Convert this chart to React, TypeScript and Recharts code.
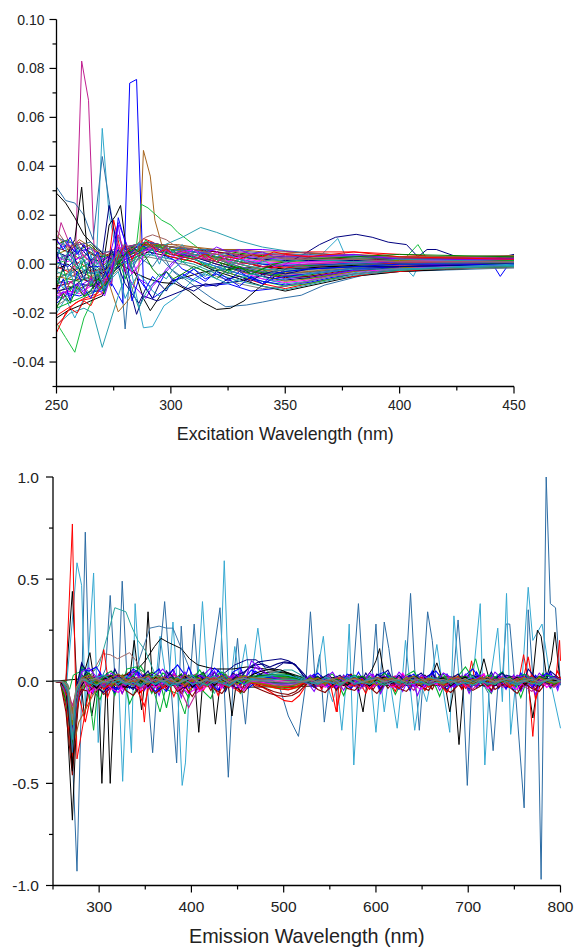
import React from "react";
import { Label, Line, LineChart, XAxis, YAxis } from "recharts";

// Origin style colour cycle
const palette = [
  "#000000", "#ff0000", "#00b030", "#0000ff", "#20a0c0", "#ff00ff", "#808000", "#000080",
  "#8000ff", "#800000", "#008000", "#c02090", "#3070a0", "#a06020", "#808080", "#20a0a0",
];

const exTicks = [250, 275, 300, 325, 350, 375, 400, 425, 450];
const exMajor = [250, 300, 350, 400, 450];
const exYTicks = [-0.05, -0.04, -0.03, -0.02, -0.01, 0, 0.01, 0.02, 0.03, 0.04, 0.05, 0.06, 0.07, 0.08, 0.09, 0.1];
const exYMajor = [-0.04, -0.02, 0, 0.02, 0.04, 0.06, 0.08, 0.1];
const emTicks = [250, 300, 350, 400, 450, 500, 550, 600, 650, 700, 750, 800];
const emMajor = [300, 400, 500, 600, 700, 800];
const emYTicks = [-1, -0.75, -0.5, -0.25, 0, 0.25, 0.5, 0.75, 1];
const emYMajor = [-1, -0.5, 0, 0.5, 1];

// Excitation band, values in 1e-3 units
const exGrid = [250, 255, 260, 265, 270, 275, 280, 285, 290, 295, 300, 310, 320, 330, 340, 350, 360, 370, 380, 390, 400, 420, 450];
const exBand = [
  [-22, -19, -17, -15, -13, -3, 1, 3, 5, 4, 3, 1, -3, -6, -9, -11, -9, -7, -5, -4, -3, -2, -1],
  [-21, -18, -15, -14, -12, -2, 2, 4, 6, 5, 3, 1, -2, -5, -8, -10, -8, -6, -5, -3.5, -3, -1.5, -1],
  [-18, -16, -14, -12, -10, -1, 3, 5, 6, 5, 4, 2, -2, -5, -7, -9, -8, -6, -4, -3, -2.5, -1.5, -1],
  [-16, -12, -13, -11, -11, -3, 2, 4, 7, 6, 4, 2, -1, -4, -7, -8.5, -7.5, -5.5, -4, -3, -2, -1, -0.5],
  [-14, -13, -10, -12, -9, 0, 3, 5, 6, 6, 5, 2, -1, -4, -6, -8, -7, -5, -3.5, -2.5, -2, -1, -0.5],
  [-13, -11, -12, -9, -8, 1, 4, 6, 7, 6, 5, 3, 0, -3, -6, -7.5, -6.5, -5, -3, -2.5, -1.5, -1, 0],
  [-12, -9, -10, -8, -10, -1, 4, 5, 7, 7, 5, 3, 0, -3, -5, -7, -6, -4.5, -3, -2, -1.5, -0.5, 0],
  [-11, -10, -8, -9, -7, 0, 3, 6, 8, 6, 5, 3, 0, -2.5, -5, -6.5, -5.5, -4, -2.5, -2, -1, -0.5, 0],
  [-10, -7, -9, -6, -8, 1, 3, 5, 6, 7, 5, 3, 1, -2, -4, -6, -5, -4, -2.5, -1.5, -1, -0.5, 0.5],
  [-9, -8, -6, -7, -6, 1, 4, 6, 7, 6, 5, 4, 1, -2, -4, -5.5, -5, -3.5, -2, -1.5, -1, 0, 0.5],
  [-8, -6, -7, -5, -7, 0, 3, 5, 7, 6, 4, 3, 1, -1.5, -3.5, -5, -4.5, -3, -2, -1, -0.5, 0, 0.5],
  [-7, -8, -5, -6, -5, 2, 4, 6, 8, 7, 5, 4, 2, -1, -3, -4.5, -4, -3, -1.5, -1, -0.5, 0, 1],
  [-6, -4, -6, -3, -6, 1, 5, 6, 7, 6, 5, 4, 2, -1, -3, -4, -3.5, -2.5, -1.5, -1, 0, 0.5, 1],
  [-5, -6, -3, -5, -4, 2, 4, 7, 8, 7, 6, 4, 2, 0, -2.5, -3.5, -3, -2, -1, -0.5, 0, 0.5, 1],
  [-4, -2, -5, -2, -5, 1, 3, 6, 7, 6, 6, 5, 2, 0, -2, -3, -2.5, -2, -1, -0.5, 0, 0.5, 1],
  [-3, -5, -1, -4, -3, 3, 5, 6, 8, 7, 5, 4, 3, 0, -2, -2.5, -2, -1.5, -0.5, 0, 0.5, 1, 1.5],
  [-2, 0, -4, -1, -4, 2, 4, 7, 9, 7, 6, 5, 3, 1, -1, -2, -1.5, -1, -0.5, 0, 0.5, 1, 1.5],
  [-1, -3, 1, -3, -2, 3, 6, 7, 8, 7, 6, 5, 3, 1, -1, -1.5, -1, -0.5, 0, 0, 0.5, 1, 1.5],
  [0, 2, -2, 1, -3, 2, 5, 6, 7, 8, 6, 5, 3, 1, 0, -1, -0.5, 0, 0, 0.5, 1, 1, 1.5],
  [1, -1, 3, -1, -1, 4, 5, 7, 9, 8, 7, 5, 4, 2, 0, -0.5, 0, 0, 0.5, 0.5, 1, 1.5, 2],
  [2, 4, 0, 3, -2, 3, 6, 8, 8, 7, 6, 5, 4, 2, 0.5, 0, 0, 0.5, 0.5, 1, 1, 1.5, 2],
  [3, 1, 5, 1, 0, 4, 6, 7, 9, 8, 7, 6, 4, 2.5, 1, 0.5, 0.5, 0.5, 1, 1, 1.5, 1.5, 2],
  [4, 6, 2, 5, -1, 3, 5, 8, 8, 7, 6, 6, 4, 3, 1.5, 1, 1, 1, 1, 1.5, 1.5, 2, 2],
  [5, 3, 7, 2, 1, 5, 6, 7, 8, 8, 7, 6, 5, 3, 2, 1.5, 1.5, 1.5, 1.5, 1.5, 2, 2, 2.5],
  [6, 8, 4, 7, 2, 4, 7, 8, 9, 8, 7, 6, 5, 3.5, 2.5, 2, 2, 2, 2, 2, 2, 2, 2.5],
  [7, 5, 9, 4, 3, 5, 6, 8, 9, 8, 7, 6, 5, 4, 3, 2.5, 2.5, 2.5, 2, 2, 2, 2.5, 3],
  [8, 10, 6, 8, 3, 4, 7, 8, 8, 8, 7, 6, 6, 4.5, 3.5, 3, 3, 3, 2.5, 2.5, 2.5, 2.5, 3],
  [9, 7, 9, 6, 4, 6, 7, 8, 9, 8, 7, 6, 6, 5, 4, 3.5, 3.5, 3, 3, 3, 2.5, 2.5, 3],
  [11, 9, 8, 9, 5, 5, 6, 8, 9, 8, 7, 6, 6, 5.5, 4.5, 4, 4, 3.5, 3, 3, 3, 3, 3.5],
  [12, 6, 10, 7, 4, 3, 5, 7, 8, 8, 7, 7, 6, 6, 5, 5, 4.5, 4, 4, 3.5, 3, 3, 3.5],
  [-17, -14, -8, -12, -6, -4, 0, 2, 3, 2, 1, -1, -5, -8, -10, -9, -7, -5, -4, -3, -2, -2, -1.5],
  [-13, -15, -11, -7, -10, -2, 1, 3, 4, 3, 2, 0, -4, -7, -9, -10.5, -8.5, -6.5, -4.5, -3.5, -2.5, -1.5, -1],
];

// Erratic excitation traces, finer steps on the left side
const exFineGrid = [250, 253, 256, 259, 262, 265, 268, 271, 274, 277, 280, 283, 286, 289, 292, 295, 298, 301, 305, 310, 315, 320, 325, 330, 335, 340, 345, 350, 360, 380, 400, 450];
const exErratic = [
  { color: "#0000ff", y: [-12, -6, -15, -3, -10, -14, -8, -11, 2, 6, 3, 5, 8, 7, 4, 6, 3, 2, -2, -4, -7, -3, -6, -9, -5, -8, -6, -5, -4, -2, -1, 0] },
  { color: "#20a0c0", y: [3, 9, 1, 6, -4, 4, -7, -5, 1, 11, 4, -3, 9, 3, 6, 0, 7, 5, 8, 2, 6, 3, 5, 1, 4, 2, 3, 2, 1, 2, 1, 1] },
  { color: "#00b030", y: [-8, -2, -11, -5, 2, -9, -4, -12, -2, 3, -6, 1, 4, 10, 6, 8, 4, 6, 1, 3, -1, 2, -3, -1, -4, -2, -5, -3, -2, -1, 0, 1] },
  { color: "#ff00ff", y: [1, 3, 4, 2, 4, 0, 3, -7, -2, 8, 3, -4, 0, 5, 7, 2, 6, 3, 5, 6, 2, 5, 1, 3, 0, 2, -1, 0, 1, 1, 1, 1] },
  { color: "#8000ff", y: [-15, -11, -13, -8, -12, -6, -10, -13, -4, 16, -2, -8, -11, -14, -9, -6, -2, 1, 3, 6, 4, 7, 5, 6, 4, 5, 3, 3, 3, 4, 2, 2] },
  { color: "#000080", y: [5, -3, 7, 0, -6, 2, -9, -4, 6, -1, -8, -12, -16, -10, -14, -8, -11, -6, -9, -11, -8, -9, -6, -5, -7, -4, -3, -4, -2, -1, -1, 0] },
  { color: "#3070a0", y: [-3, 4, -5, 8, 1, -4, 5, -8, -3, 2, 9, -2, 3, 1, -1, 3, 0, -3, -6, -2, -5, -1, -4, -2, -3, -5, -3, -2, -1, 0, 0, 1] },
  { color: "#ff0000", y: [-25, -22, -18, -20, -15, -17, -11, -8, -3, 3, 8, 2, 6, 9, 7, 5, 6, 4, 3, 2, 4, 1, 3, 2, 4, 3, 5, 4, 3, 5, 3, 2] },
  { color: "#0000ff", y: [10, 6, 11, 4, 8, 1, 5, -2, -9, 19, 9, -15, -6, -10, -5, -8, -3, -7, -5, -2, -6, -4, -7, -3, -6, -8, -4, -3, -2, -1, 0, 0] },
  { color: "#c02090", y: [-9, -14, -7, -10, -13, -5, -9, -6, -8, 12, 5, 7, 3, 6, 8, 5, 7, 4, 6, 3, 2, 1, 3, 0, 1, -1, 0, -1, 0, 1, 1, 1] },
  { color: "#008000", y: [-18, -12, -16, -9, -13, -11, -6, -9, -5, 0, 4, 7, 5, 3, -2, -5, -3, -6, -4, -1, -3, -6, -2, -1, -4, -2, 0, 1, 2, 3, 4, 3] },
  { color: "#20a0a0", y: [7, 2, 5, -2, 3, 7, 0, 4, -6, 5, 0, -10, -18, -12, -8, -4, -6, -2, 1, -2, 0, -3, -1, 2, 0, 1, 2, 1, 2, 1, 2, 1] },
  { color: "#a06060", y: [14, 10, 6, 9, 3, 1, 4, -3, 0, 5, 8, 6, 9, 11, 12, 11, 10, 8, 7, 6, 5, 4, 5, 3, 4, 2, 3, 2, 2, 2, 1, 1] },
  { color: "#20a0c0", y: [-6, -10, -3, -12, -5, -8, -2, -10, -6, -3, -14, -8, -4, -7, -11, -13, -10, -8, -5, -7, -4, -6, -8, -6, -4, -5, -7, -6, -4, -2, -2, 0] },
];

const exOutliers = [
  { color: "#c02090", x: [250, 252, 255, 258, 261, 264, 267, 270, 275, 285, 295, 310, 330, 350, 380, 450], y: [8, 17, 10, -5, 83, 67, -8, 2, 3, 6, 7, 4, 1, -3, 1, 1] },
  { color: "#30a8cc", x: [250, 254, 258, 262, 267, 270, 273, 277, 282, 288, 292, 297, 303, 310, 320, 340, 366, 373, 376, 400, 406, 409, 450], y: [-20, -14, -22, -14, -8, 55.5, 20, 2, 0, -26, -25.5, -17, -13, -6, -1, -2, 4, 10.5, 4, 1, -5, 1, 1] },
  { color: "#3070a8", x: [250, 254, 258, 262, 266, 270, 274, 278, 280, 282, 290, 295, 300, 306, 312, 318, 324, 333, 340, 348, 357, 367, 384, 400, 450], y: [31.5, 26, 25, 20, 10, 44, 20, -3, -26.5, -5, 3, 7, -2, -6, -10, -14, -17.4, -16.7, -15.5, -14, -12.7, -8.6, -4.5, -3, -1.5] },
  { color: "#0000ff", x: [250, 253, 258, 263, 268, 273, 279, 282, 285, 288, 292, 298, 305, 315, 325, 335, 345, 360, 375, 400, 420, 440, 444, 447, 450], y: [2, 10, 5, 6, 3, -6, -16, 74, 75.5, -8, -14, -10, -4, -9, -8, -11, -10, -7, -3, 1, 0, 1, -5, -1, -1] },
  { color: "#a8661e", x: [250, 258, 266, 272, 277, 282, 286, 288, 291, 293, 296, 303, 310, 315, 320, 350, 400, 450], y: [-6, -2, -4, -5, -19.5, -14, -2, 46.5, 36, 18, 8, 8, 7, 6, 2, -4, 0, 1] },
  { color: "#18c040", x: [250, 254, 258, 262, 266, 270, 273, 280, 285, 287, 290, 296, 300, 303, 310, 314, 330, 360, 400, 408, 412, 450], y: [-24, -30, -36, -22, -14, -8, -3, 3, 8, 24.5, 23, 18, 16, 13, 8, 5, -2, -6, 0, 8, 2, 2] },
  { color: "#2aa0b0", x: [250, 256, 262, 266, 270, 274, 278, 283, 290, 300, 305, 313, 320, 330, 340, 350, 370, 400, 450], y: [-25, -20, -18, -20, -34, -22, -10, 0, 5, 9, 11, 15, 13, 9.5, 7, 5.5, 4, 3, 1] },
  { color: "#000000", x: [250, 254, 258, 262, 268, 274, 278, 283, 290, 296, 302, 308, 314, 320, 326, 332, 338, 344, 350, 356, 365, 375, 390, 400, 425, 450], y: [29, 25, 19, 12, 6, 2, 0, -3, -6, -7.5, -8, -11, -15.5, -18.5, -18, -15, -10, -6, -2, 0, -1, -1, -3, -3, -2, -1] },
  { color: "#000000", x: [250, 255, 258, 261, 263, 266, 270, 273, 276, 278, 280, 282, 285, 288, 291, 296, 300, 315, 340, 400, 450], y: [-10, 5, 10, 31.5, 10, -10, -3, 16, 20, 24, 10, 0, -5, -14, -19, -12, -7, -3, -1, 0, 0] },
  { color: "#000080", x: [250, 256, 262, 268, 273, 276, 280, 285, 288, 294, 310, 330, 345, 350, 358, 365, 372, 381, 388, 395, 403, 408, 412, 416, 425, 440, 450], y: [-14, -10, -6, -10, 24, 10, -3, -20.5, -13, -15, -9, -7, -3, 0, 4, 8, 11, 12.2, 11, 9, 8, 3, 6, 6, 3, 2, 4] },
  { color: "#ff0000", x: [250, 254, 258, 262, 268, 272, 275, 280, 288, 292, 300, 320, 345, 360, 380, 400, 420, 450], y: [-28, -20, -16, -14, -12, -6, 18, -3, 10.5, 9, 5, 3, 4, 5, 5, 4, 3, 2] },
  { color: "#8000ff", x: [250, 258, 266, 272, 277, 282, 286, 291, 296, 303, 320, 340, 360, 400, 450], y: [-12, -11, -7, -1, 17, 5, -6, -9, -5, 2, 6, 6, 4.5, 2, 1] },
];

// Emission band, values in 1e-3 units
const emGrid = [
  250, 258, 264, 271, 278, 285, 293, 301, 309, 317, 325, 333, 341, 349, 357, 365, 373, 381, 389, 397, 405, 413, 421, 429, 437, 445, 453, 461, 469,
  477, 485, 493, 501, 509, 517, 525, 533, 541, 549, 557, 565, 573, 581, 589, 597, 605, 613, 621, 629, 637, 645, 653, 661, 669, 677, 685, 693, 701,
  709, 717, 725, 733, 741, 749, 757, 765, 773, 781, 789, 797, 800,
];
const emBand = [
  { color: "#00b030", y: [0, -3, -90, -420, -60, -15, -40, -90, 20, -70, 30, -110, -30, 25, -60, 15, -130, 40, -20, -80, 25, -50, -85, 15, -45, 30, -60, -20, 10, -15, -25, -30, -35, -30, -20, -5, -30, 15, -40, 10, -70, 20, -35, -15, 30, -50, 15, -65, 10, -20, 25, -45, 15, -75, 20, -30, 10, -50, 25, -15, -60, 30, -35, 15, -80, 25, -20, 40, -35, 10, 0] },
  { color: "#ff0000", y: [0, -5, -120, -390, -70, -200, -30, 40, -80, 20, -60, 10, -40, -120, 30, -50, 15, -75, 25, -55, 10, -45, 20, -70, 15, -30, -55, 10, -20, -30, -50, -75, -95, -100, -70, -15, 30, -40, 20, -150, 25, -35, 10, -60, 30, -25, 15, -50, 35, -30, 10, -45, 20, -15, -55, 25, -40, 15, -30, 35, -50, 20, -25, 10, -45, 120, -90, 20, -30, 50, 10] },
  { color: "#0000ff", y: [0, -3, -60, -220, -30, 10, 25, -30, 40, -45, 20, -35, 50, -20, 30, 60, -25, 45, -40, 70, -15, 40, -30, 55, -20, 45, 65, -10, 50, 30, 25, 20, 15, 12, 10, 5, 35, -30, 20, -40, 30, -25, 45, -20, 15, -35, 40, -30, 25, -45, 30, -20, 50, -25, 35, -30, 20, -40, 45, -15, 30, -35, 25, -45, 40, -20, 30, -25, 45, -30, 10] },
  { color: "#8000ff", y: [0, -4, -70, -180, -90, 30, -20, 45, -50, 30, -60, 25, 40, -45, 20, -70, 35, 55, -80, 20, -55, 30, 65, -40, 20, -35, 50, -15, 70, 45, 30, 15, 8, 5, 3, 0, -50, 25, -40, 15, -45, 30, -55, 20, 35, -60, 15, 25, -50, 30, -70, 20, 35, -45, 15, -30, 25, -60, 20, 35, -55, 15, -40, 30, -50, 20, -65, 25, 35, -45, 5] },
  { color: "#000080", y: [0, -2, -50, -350, -40, 40, -60, 25, -35, 60, -20, 35, -50, 20, 30, -40, 50, -15, 35, -30, 15, 45, -25, 30, -50, 40, 15, 60, 80, 85, 70, 85, 95, 90, 60, 20, -20, 15, 35, -25, 20, 10, -30, 40, -15, 25, 55, -20, 15, 30, -25, 15, 40, -20, 25, 15, -30, 35, 20, -25, 45, -15, 30, 20, -40, 60, 15, -25, 50, 20, 0] },
  { color: "#800000", y: [0, -6, -150, -460, -80, -25, 10, -45, 15, -55, 20, 45, -35, 10, -50, 25, -40, 15, -60, 10, -35, 20, -45, 15, -25, 30, -50, 10, -30, -45, -60, -70, -75, -70, -50, -12, 20, -30, 15, -45, 10, 35, -25, 15, -40, 20, -35, 10, -30, 25, -20, 15, -40, 30, -15, 10, -35, 20, -25, 15, -45, 30, -20, 15, -30, 10, -40, 25, -15, 20, 0] },
  { color: "#ff00ff", y: [0, -2, -40, -260, -25, 15, -55, 30, -25, 15, -40, 25, -20, 30, -45, 15, -30, 40, -25, -60, -35, 20, -30, 25, -15, 30, -20, 15, -10, 10, 5, 0, -5, -8, -5, 0, 20, -20, 30, -30, 15, -25, 20, -15, 30, -25, 15, -20, 40, -15, 25, -30, 10, -20, 30, -15, 20, -25, 10, 35, -20, 15, -30, 20, -15, 30, -20, 15, -25, 10, 0] },
  { color: "#000000", y: [0, -2, -30, -300, -30, 20, -15, 30, -20, 25, -30, 15, -10, 35, -20, 15, -25, 20, -10, 30, -15, 25, -20, 10, -30, 15, 25, -10, 20, 40, 45, 45, 40, 30, 18, 5, -15, 20, -10, 15, -20, 25, -15, 10, -25, 20, -10, 15, -20, 25, -10, 30, -15, 20, -25, 10, 15, -20, 25, -10, 15, -30, 20, -10, 25, -15, 10, 30, -20, 15, 0] },
  { color: "#808000", y: [0, -3, -80, -320, -50, -10, 15, -25, 10, -20, 30, -15, 20, -10, 25, -30, 10, -15, 20, -25, 30, -10, 15, -20, 10, -25, 15, -5, -10, -20, -28, -35, -40, -38, -28, -8, 10, -15, 20, -10, 15, -25, 10, -20, 15, -10, 25, -15, 10, -20, 15, -10, 20, -15, 25, -10, 15, -20, 10, -15, 20, -10, 15, -25, 10, -15, 20, -10, 15, -20, 0] },
  { color: "#008000", y: [0, -4, -100, -280, -45, 25, -30, 15, -25, 35, -15, 20, -30, 10, 45, 25, -20, 10, 35, -15, 20, 40, -10, 15, 35, -20, 30, 10, 20, 25, 30, 35, 35, 30, 20, 5, -10, 25, -15, 10, 20, -15, 25, -10, 15, -20, 10, 20, -15, 25, -10, 15, -20, 10, 25, -15, 20, -10, 15, -20, 30, -10, 20, -15, 10, 25, -15, 20, -10, 15, 0] },
  { color: "#c02090", y: [0, -2, -35, -240, -35, 5, -40, 20, -30, 10, -25, 15, -35, 10, -20, 25, -15, 20, -50, -130, -60, -30, 15, -20, 10, -30, 20, -15, 5, 0, -5, -10, -12, -12, -8, -2, 15, -25, 10, -20, 25, -10, 15, -30, 10, 20, -15, 10, -25, 15, -10, 20, -15, 10, -20, 15, -25, 10, 20, -15, 10, -25, 15, -10, 20, -15, 10, -20, 15, -10, 0] },
  { color: "#3070a0", y: [0, -1, -25, -200, -20, 15, -10, 25, -15, 10, -20, 15, -25, 20, -10, 15, -20, 10, -15, 25, -10, 15, -20, 10, -15, 20, -10, 15, -5, -5, -10, -14, -18, -18, -12, -3, 15, -10, 20, -15, 10, -20, 15, -10, 20, -15, 10, -15, 20, -10, 15, -20, 10, -15, 20, -10, 15, -10, 20, -15, 10, -15, 20, -10, 15, -20, 10, -15, 20, -10, 0] },
  { color: "#a06020", y: [0, -3, -70, -340, -200, -140, -70, -20, 15, -10, 20, -15, 10, -20, 15, -10, 20, -15, 10, -15, 20, -10, 15, -20, 10, -15, 20, -10, 10, 12, 14, 16, 18, 16, 10, 3, -10, 15, -10, 20, -15, 10, -10, 15, -20, 10, -15, 20, -10, 15, -10, 20, -15, 10, -15, 20, -10, 15, -10, 20, -15, 10, -10, 15, -20, 10, -15, 15, -10, 15, 0] },
  { color: "#20a0a0", y: [0, -1, -55, -150, -15, 20, -20, 10, -15, 25, -10, 15, -15, 20, -10, 15, -20, 15, -10, 20, -15, 10, -15, 20, -10, 15, -15, 10, 15, 25, 35, 45, 55, 55, 35, 8, 10, -15, 10, -10, 15, -15, 10, -10, 20, -10, 15, -15, 10, -10, 15, -15, 20, -10, 10, -15, 10, -10, 15, -15, 10, -10, 20, -15, 10, -10, 15, -15, 10, -10, 0] },
  { color: "#808080", y: [0, -2, -45, -380, -35, 10, -15, 15, -10, 20, -15, 10, -20, 15, -10, 15, -15, 20, -10, 15, -15, 10, -10, 15, -15, 10, -10, 15, 0, -8, -12, -15, -20, -22, -15, -4, 8, -10, 15, -10, 10, -15, 10, -10, 15, -10, 10, -10, 15, -15, 10, -10, 10, -15, 15, -10, 10, -10, 15, -10, 10, -15, 10, -10, 10, -15, 10, -10, 15, -10, 0] },
  { color: "#ff0000", y: [0, -2, -50, -230, -25, 5, -10, 10, -25, 15, -10, 10, -15, 10, -20, 15, -10, 10, -15, 10, -25, 10, -15, 10, -10, 15, -20, 10, -5, -12, -20, -25, -30, -32, -22, -5, 10, -15, 10, -20, 10, -10, 15, -15, 10, -10, 10, -20, 10, -10, 15, -10, 10, -20, 10, -10, 15, -15, 10, -10, 10, -15, 10, -10, 15, -10, 10, -15, 10, -10, 0] },
  { color: "#20a0c0", y: [0, -1, -20, -170, -10, 10, -8, 15, -10, 8, -15, 10, -8, 12, -10, 15, -8, 10, -12, 8, -10, 12, -8, 15, -10, 8, -12, 10, 8, 15, 20, 24, 28, 26, 18, 4, -8, 10, -10, 8, -12, 10, -8, 12, -10, 8, -10, 12, -8, 10, -10, 8, -12, 10, -8, 10, -10, 8, -12, 10, -8, 12, -10, 8, -10, 10, -8, 12, -10, 8, 0] },
  { color: "#0000ff", y: [0, -2, -35, -270, -20, 8, -45, 20, -10, -55, 15, -30, 10, -40, 20, -15, -50, 15, -25, 10, -35, 20, -10, -45, 15, -25, 10, -35, -8, -4, -8, -10, -10, -10, -6, -1, -30, 10, -25, 15, -10, -35, 10, -20, 15, -40, 10, -15, 20, -30, 10, -25, 15, -10, -40, 15, -20, 10, -30, 15, -20, 10, -35, 15, -15, 10, -25, 15, -30, 10, 0] },
  { color: "#8000ff", y: [0, -2, -60, -310, -35, 25, 5, -25, 20, 5, -30, 15, -10, 25, 5, -20, 15, -10, 20, -35, 10, 5, -25, 15, -10, 20, 5, -20, 5, 5, 8, 10, 10, 8, 5, 0, 15, 5, -20, 25, 5, -15, 20, -5, -25, 15, 5, -30, 20, 5, -15, 25, -10, 5, 20, -20, 5, 15, -30, 20, 5, -15, 25, -10, 5, -25, 20, 5, 15, -20, 0] },
  { color: "#000000", y: [0, -3, -40, -360, -40, 5, -12, 5, -8, 5, -10, 8, -6, 5, -12, 6, -8, 5, -10, 6, -8, 5, -10, 8, -6, 5, -10, 5, -4, -3, -5, -6, -8, -8, -5, -2, 5, -8, 6, -6, 5, -10, 6, -8, 5, -6, 8, -5, 6, -10, 5, -6, 8, -5, 6, -8, 5, -6, 8, -5, 6, -8, 5, -6, 8, -5, 6, -8, 5, -6, 0] },
  { color: "#808000", y: [0, -1, -15, -140, -12, 6, -4, 8, -5, 4, -8, 6, -4, 8, -6, 4, -5, 8, -4, 6, -8, 4, -6, 8, -4, 6, -5, 4, 3, 6, 8, 10, 12, 10, 6, 1, 4, -6, 5, -4, 6, -5, 4, -6, 5, -4, 6, -5, 4, -6, 5, -4, 6, -5, 4, -6, 5, -4, 6, -5, 4, -6, 5, -4, 6, -5, 4, -6, 5, -4, 0] },
  { color: "#c02090", y: [0, -1, -10, -120, -8, 12, 25, 15, 30, 20, 10, 25, 15, 35, 20, 10, 25, 30, 15, 20, 35, 10, 25, 15, 30, 10, 25, 20, 15, 10, 8, 6, 4, 3, 2, 0, 10, 20, 5, 15, 25, 8, 18, 12, 22, 6, 15, 25, 10, 18, 5, 22, 12, 8, 20, 15, 25, 5, 18, 10, 22, 8, 15, 20, 5, 25, 12, 18, 8, 15, 0] },
];

// Second set of emission traces, sampled half a step off the first set
const emGridB = [
  250, 260, 266, 271, 275, 281, 289, 297, 305, 313, 321, 329, 337, 345, 353, 361, 369, 377, 385, 393, 401, 409, 417, 425, 433, 441, 449, 457, 465, 473,
  481, 489, 497, 505, 513, 521, 529, 537, 545, 553, 561, 569, 577, 585, 593, 601, 609, 617, 625, 633, 641, 649, 657, 665, 673, 681, 689, 697, 705, 713,
  721, 729, 737, 745, 753, 761, 769, 777, 785, 793, 800,
];
const emBandB = [
  { color: "#0000ff", y: [0, -1, -30, -250, -70, 60, 50, 70, 10, -25, -40, 15, 60, 35, -10, -50, -20, 40, 80, 30, -15, -30, 20, 65, 35, -5, -35, 10, 55, 30, 20, 15, 10, 8, 6, 3, 10, 40, 5, -30, -10, 35, 20, -25, -15, 30, 45, -5, -40, 15, 35, -10, 25, 50, 5, -30, -5, 30, 60, 10, -25, 15, 45, -15, 5, 35, -30, 10, 40, 5, 0] },
  { color: "#800000", y: [0, -2, -70, -410, -90, -40, -50, -15, -65, -30, 5, -45, -70, -20, -10, -60, -30, 5, -50, -25, -75, -15, 10, -40, -60, -10, -35, -55, -5, -20, -35, -50, -60, -65, -50, -15, -10, -40, -55, -15, 5, -35, -45, -10, -30, -60, -15, 0, -35, -50, -10, -25, -45, 5, -30, -55, -20, -10, -45, -25, 5, -40, -15, -30, -60, -10, -35, -50, -5, -25, 0] },
  { color: "#00b030", y: [0, -1, -45, -300, -50, 70, 35, -15, 25, 50, 10, -20, 30, 75, 15, -10, 40, 20, -25, 35, 10, 55, -5, 25, 45, 5, -20, 30, 15, 20, 22, 24, 24, 20, 12, 3, 25, -15, 20, 35, -10, 15, 30, 5, 25, -20, 40, 15, -5, 30, 50, -10, 20, 10, 35, -15, 25, 70, 15, -5, 30, 20, 45, -10, 15, 35, 10, -15, 30, 20, 0] },
  { color: "#ff00ff", y: [0, -2, -55, -290, -120, 40, -60, -25, 15, -35, -55, 10, -20, -45, 20, -30, -10, 25, -40, -15, 15, -50, -25, 5, -35, 15, -20, -45, 0, -4, -8, -12, -14, -14, -10, -3, -15, 5, -30, -10, 15, -25, -5, 20, -35, -15, 5, -30, -10, 25, -20, -40, 0, -15, 20, -30, 5, -25, -10, 15, -35, -5, 25, -20, -40, 5, -15, 20, -30, -5, 0] },
  { color: "#000080", y: [0, -1, -25, -230, -40, 90, 20, -30, -55, 5, 30, -15, -40, 10, 50, -20, 5, 40, -15, -35, 15, 30, -10, 45, -20, -5, 30, 45, 75, 95, 100, 105, 110, 100, 80, 30, 5, 25, -10, 10, 30, -15, 5, 20, -20, 35, 10, -5, 30, -15, 15, 40, -5, 20, -25, 10, 35, -10, 15, 25, -15, 10, 40, -5, 20, -20, 30, 5, -10, 25, 0] },
  { color: "#ff0000", y: [0, -3, -80, -370, -160, 20, -25, 15, -40, -10, 25, -30, 5, -55, -15, 20, -35, -5, 15, -25, 10, -40, 0, 20, -15, -30, 10, -5, -8, -15, -22, -30, -38, -42, -30, -8, 15, -20, 5, -30, 20, -10, -25, 10, -40, 5, 25, -15, -35, 10, -5, 20, -30, 15, -20, -5, 25, -35, 5, 15, -25, -10, 20, -30, 0, -15, 30, -25, 10, -15, 0] },
  { color: "#8000ff", y: [0, -1, -50, -200, -60, 45, 65, 20, -20, 40, 15, -25, 50, 10, -35, 25, 60, 5, -15, 45, -20, 30, 10, 50, -25, 20, 35, -10, 100, 70, 40, 20, 10, 6, 3, 0, 30, -10, 15, 45, -15, 25, 5, -20, 40, 10, 25, -15, 45, 5, -25, 30, 15, -10, 40, 20, -15, 35, 5, 25, -20, 45, 10, -10, 30, 15, -25, 40, 5, 20, 0] },
  { color: "#008000", y: [0, -2, -65, -330, -75, 15, 40, -10, 15, 30, -20, 5, 25, -15, 35, 10, -25, 20, 5, -10, 30, 15, -20, 10, 25, -5, 15, -15, 25, 28, 30, 30, 28, 24, 15, 4, 5, 20, -10, 15, 5, -20, 15, 25, -5, 10, -15, 20, 5, -10, 25, 10, -15, 5, 20, -10, 15, 25, -5, 10, -20, 15, 5, 20, -10, 15, -5, 25, 10, -15, 0] },
  { color: "#000000", y: [0, -1, -35, -440, -100, 30, 5, -35, 10, 25, -15, -30, 15, 5, -25, 20, 10, -20, -5, 25, -30, 5, 15, -20, 10, -15, 20, 5, 30, 45, 55, 60, 55, 40, 20, 5, -10, 10, 20, -15, 5, -20, 15, 5, -25, 10, 20, -10, 5, -15, 25, 5, -20, 10, 15, -25, 5, 20, -10, 5, 15, -20, 10, -5, 20, -15, 5, -25, 15, 5, 0] },
  { color: "#20a0c0", y: [0, -1, -15, -180, -50, 25, -10, 20, 30, 5, -15, 25, 10, -20, 15, 30, -5, -25, 20, 5, 30, -10, 15, 25, 0, -20, 15, 5, 12, 18, 24, 30, 32, 28, 20, 5, 10, -10, 20, 5, -15, 10, 25, -5, 15, -20, 5, 20, -10, 15, 5, -15, 20, 10, -5, 15, -20, 5, 25, -10, 10, -15, 20, 5, -10, 15, 5, -20, 10, 15, 0] },
  { color: "#c02090", y: [0, -2, -40, -265, -85, 10, -20, -45, -10, 15, -30, -5, 20, -35, -15, 10, -25, 5, -40, -15, 15, -30, -10, 20, -25, 5, -15, -35, -4, -8, -12, -18, -22, -22, -16, -5, 5, -25, -10, 15, -30, 5, -15, -35, 10, -20, 0, 15, -25, -10, -45, 5, -20, 10, -30, -5, 15, -20, -40, 5, -15, 10, -30, -5, 15, -25, -50, 5, -15, -30, 0] },
  { color: "#808000", y: [0, -1, -30, -215, -45, 5, 20, -15, 5, -25, 15, 5, -20, 10, -15, 25, 5, -10, 15, -20, 5, 15, -25, 10, -5, 15, -15, 5, -5, -10, -16, -22, -26, -26, -18, -4, 15, 5, -15, 10, -20, 5, 15, -10, 5, -20, 15, 5, -10, 20, -5, -15, 10, 5, -20, 15, -5, 10, -15, 20, 5, -10, 15, -20, 5, 10, -15, 20, -5, -10, 0] },
  { color: "#3070a0", y: [0, -1, -60, -350, -130, 30, -15, 10, -30, 5, 20, -10, -25, 15, 5, -15, 20, -5, -20, 10, 15, -25, 5, -10, 20, -15, 5, 15, 6, 4, -4, -10, -14, -12, -8, -2, -15, 5, 15, -10, 5, 20, -15, -5, 10, 20, -10, 5, -15, 10, 20, -5, -15, 15, 5, -10, 20, -15, 5, 10, -15, -5, 15, 5, -20, 10, 20, -10, 5, 15, 0] },
  { color: "#a06020", y: [0, -1, -20, -160, -35, 15, 30, 5, -10, 20, 35, 10, -5, 15, 25, -5, 20, 5, -10, 30, 10, -5, 20, 5, 30, -10, 15, 25, 18, 15, 12, 10, 9, 8, 5, 2, 5, 15, -5, 10, 20, 0, 15, 5, -10, 20, 5, 15, -5, 10, 25, 0, 15, 5, -10, 15, 20, -5, 10, 5, 20, -5, 15, 0, 10, 20, -5, 15, 5, -5, 0] },
  { color: "#20a0a0", y: [0, -1, -40, -285, -55, 10, -5, -20, 0, -10, 5, -15, -5, -25, 0, -15, 5, -20, -10, 5, -15, -5, -20, 0, -10, -25, 5, -15, 3, 5, 6, 8, 10, 10, 7, 1, -5, -15, 0, -10, -20, 5, -10, -5, -15, 0, -20, -5, 5, -15, -10, 0, -20, -5, -10, 5, -15, -5, -20, 0, -10, -15, 5, -5, -20, 0, -10, -15, 5, -5, 0] },
  { color: "#808080", y: [0, -1, -25, -190, -30, 10, 5, 15, -5, 5, 12, -8, 8, 15, -5, 10, 0, 12, -8, 5, 15, -5, 8, 0, 12, -5, 8, 15, 4, 2, 0, -3, -5, -6, -4, -1, 8, -4, 5, 12, -6, 3, 10, -5, 6, 12, -3, 5, 10, -6, 4, 12, -4, 6, 10, -5, 3, 12, -6, 5, 10, -4, 6, 12, -5, 3, 10, -4, 6, 12, 0] },
];

const emOutliers = [
  { color: "#2c6ca4", x: [250, 262, 270, 276, 281, 285, 289, 298, 307, 312, 317, 321, 325, 330, 340, 352, 358, 363, 371, 376, 384, 389, 393, 398, 403, 408, 420, 431, 435, 440, 445, 450, 454, 458.6, 463, 480, 495, 505, 516, 524, 529, 534, 539, 544, 549, 560, 575, 581, 586, 595, 600, 604, 609, 614, 618, 625, 632, 637.5, 642, 647, 651, 656, 661, 665, 675, 684, 689, 694, 699, 704, 712, 722, 727, 732, 737, 741, 745, 750, 760.6, 765, 770, 775, 779, 784.5, 789, 794.6, 800], y: [0, -5, -250, -930, -60, 730, 40, -30, 60, 420, 20, -20, 490, 30, -40, -20, -350, -10, 390, 90, -400, 270, -30, -20, 280, -40, 10, 360, 20, -470, -20, 210, -20, -210, 20, 30, -20, -170, -270, -10, 340, 10, 130, -200, -20, 20, 10, 380, 20, -20, 280, -40, 290, 160, 20, -20, 20, 430, 60, -240, 0, 340, 200, 10, -30, 20, 300, 10, -510, 10, 20, -60, -340, -30, 10, 280, 280, 20, -620, 350, 20, 10, -970, 1000, 380, 360, -20] },
  { color: "#35a9d2", x: [250, 265, 271, 276, 281, 285, 294, 299, 304, 315, 321, 325.5, 330, 335, 339, 344, 358, 362, 366, 371, 375, 380, 385, 390, 393.5, 398, 407, 412, 417, 425, 431, 435.6, 440, 443, 447, 452, 458.6, 464, 472, 477, 490, 525, 535, 543, 548, 553, 558, 563, 568, 571, 576, 581, 590, 595, 600, 605, 609, 614, 623, 628, 632, 637, 642, 649, 655, 660, 666, 672, 680, 684.5, 690, 705, 713, 718, 723, 732, 737, 741.5, 746, 752, 758, 765, 770, 780, 790, 800], y: [0, 0, 300, 580, 470, -120, 530, -300, 30, 20, 20, -490, 20, -350, 380, 20, 10, 20, 220, 60, -40, 290, -40, -510, -400, -20, 10, 390, 30, -60, 10, 590, 20, 10, 170, 10, 180, -20, 260, 80, 10, 10, 5, 220, -30, -100, -20, -240, 10, 280, -410, -20, 15, -20, -250, 10, -150, 30, -230, -20, 200, -20, -240, -20, -100, 10, 180, -20, -250, 320, 20, 10, 380, -410, -20, 260, -100, 430, -260, 20, -20, 460, 200, 280, -20, -230] },
  { color: "#000000", x: [250, 263, 271, 277, 281, 284, 288, 292, 296, 300, 343, 346, 349, 404, 408, 412, 422, 426, 431, 440, 444, 448, 580, 586, 590, 675, 680, 685, 690, 695, 765, 770, 775, 800], y: [0, 0, -680, -30, -30, -170, -40, -170, -60, -30, -30, -140, -20, -20, -250, -20, -20, -210, -20, -20, -170, -30, -20, -150, -20, -20, -150, -20, -310, -20, -20, -180, -20, 20] },
  { color: "#000000", x: [250, 264, 271, 276, 281, 285, 290, 294, 299, 303, 308, 312, 317, 333, 338, 343, 349, 353, 358, 375, 380, 385, 590, 596, 600, 604, 609, 660, 666, 671, 712, 717, 722, 770, 775, 779, 785, 790, 794, 799], y: [0, 0, 440, -40, 80, 60, 140, 20, 0, -500, 40, -500, 10, 10, 200, 10, 20, 340, -20, 20, 60, 10, 20, 60, 100, 160, 20, 20, 90, 20, 20, 110, 20, 20, 250, 220, 20, 100, 240, 20] },
  { color: "#000000", x: [250, 329, 340, 350, 360, 367, 375, 389, 398, 407, 420, 427, 445, 460, 480, 506, 520], y: [0, 30, 50, 100, 170, 210, 190, 160, 110, 80, 65, 60, 60, 70, 60, 40, 20] },
  { color: "#2aa8a0", x: [285, 300, 310, 317, 329, 335, 342, 350, 360], y: [0, 80, 240, 360, 340, 270, 200, 150, 40] },
  { color: "#3f78aa", x: [340, 355, 365, 373, 380, 390, 400], y: [60, 260, 270, 260, 260, 150, 40] },
  { color: "#a06a6a", x: [290, 304, 312, 320, 333, 340, 348], y: [20, 135, 130, 110, 140, 100, 20] },
  { color: "#ff0000", x: [250, 264, 271, 276, 290, 300, 305, 310, 345, 349, 353, 380, 556, 558, 560, 700, 703.6, 707, 755, 760, 765, 770, 775, 795, 799, 800], y: [0, 0, 770, -380, -20, 20, 155, 0, -10, -200, 10, 10, 10, -150, 10, 10, 100, 10, 10, 130, 10, -270, 10, 10, 200, 100] },
  { color: "#00b030", x: [250, 264, 268, 272, 285, 289, 294, 299, 325, 330, 340, 350, 358, 366, 372, 385, 393, 399, 700, 708, 714, 800], y: [0, 0, -40, 30, 60, -60, -240, -20, -20, 60, 70, 40, -30, -150, -40, -60, -160, -10, 10, 110, 10, 0] },
  { color: "#000080", x: [430, 447, 460, 470, 480, 490, 500, 512, 522], y: [20, 80, 105, 105, 70, 60, 90, 85, 20] },
];

const toRows = (xs: number[], ys: number[]) => xs.map((x, i) => ({ x, y: ys[i] / 1000 }));

const AxisTickX = (props: any) => {
  const { x, y, payload, majors, fontSize, labelGap } = props;
  const major = majors.includes(payload.value);
  return (
    <g>
      <line x1={x} x2={x} y1={y} y2={y + (major ? 7 : 4)} stroke="#000" strokeWidth={1.2} />
      {major && (
        <text x={x} y={y + labelGap} textAnchor="middle" fontSize={fontSize} fill="#222">
          {payload.value}
        </text>
      )}
    </g>
  );
};

const AxisTickY = (props: any) => {
  const { x, y, payload, majors, fontSize, labelGap, digits } = props;
  const major = majors.includes(payload.value);
  return (
    <g>
      <line x1={x} x2={x - (major ? 7 : 4)} y1={y} y2={y} stroke="#000" strokeWidth={1.2} />
      {major && (
        <text x={x - labelGap} y={y + fontSize * 0.36} textAnchor="end" fontSize={fontSize} fill="#222">
          {payload.value.toFixed(digits)}
        </text>
      )}
    </g>
  );
};

const axisLine = { stroke: "#000", strokeWidth: 1.3 };
const font = "'Liberation Sans', Arial, sans-serif";

export default function App() {
  return (
    <div style={{ position: "absolute", left: 0, top: 0, width: 577, height: 951, fontFamily: font, background: "#fff" }}>
      <div style={{ position: "absolute", left: 0, top: 0 }}>
        <LineChart width={577} height={450} margin={{ top: 19.5, right: 63, bottom: 23.5, left: 10.5 }}>
          <XAxis
            type="number"
            dataKey="x"
            domain={[250, 450]}
            ticks={exTicks}
            interval={0}
            height={40}
            axisLine={axisLine}
            tickLine={false}
            tickSize={0}
            tickMargin={0}
            allowDuplicatedCategory={false}
            tick={<AxisTickX majors={exMajor} fontSize={14} labelGap={23} />}
          >
            <Label value="Excitation Wavelength (nm)" position="bottom" offset={1} fontSize={17.8} fill="#222" />
          </XAxis>
          <YAxis
            type="number"
            domain={[-0.05, 0.1]}
            ticks={exYTicks}
            interval={0}
            width={46}
            axisLine={axisLine}
            tickLine={false}
            tickSize={0}
            tickMargin={0}
            tick={<AxisTickY majors={exYMajor} fontSize={14} labelGap={12} digits={2} />}
          />
          {exOutliers.map((s, i) => (
            <Line key={`o${i}`} data={toRows(s.x, s.y)} dataKey="y" stroke={s.color} strokeWidth={1} dot={false} isAnimationActive={false} />
          ))}
          {exBand.map((ys, i) => (
            <Line key={`b${i}`} data={toRows(exGrid, ys)} dataKey="y" stroke={palette[i % palette.length]} strokeWidth={1} dot={false} isAnimationActive={false} />
          ))}
          {exErratic.map((s, i) => (
            <Line key={`e${i}`} data={toRows(exFineGrid, s.y)} dataKey="y" stroke={s.color} strokeWidth={1} dot={false} isAnimationActive={false} />
          ))}
        </LineChart>
      </div>
      <div style={{ position: "absolute", left: 0, top: 450 }}>
        <LineChart width={577} height={501} margin={{ top: 27, right: 16.5, bottom: 25.5, left: 8 }}>
          <XAxis
            type="number"
            dataKey="x"
            domain={[250, 800]}
            ticks={emTicks}
            interval={0}
            height={40}
            axisLine={axisLine}
            tickLine={false}
            tickSize={0}
            tickMargin={0}
            allowDuplicatedCategory={false}
            tick={<AxisTickX majors={emMajor} fontSize={15.5} labelGap={26} />}
          >
            <Label value="Emission Wavelength (nm)" position="bottom" offset={3} fontSize={19.8} fill="#222" />
          </XAxis>
          <YAxis
            type="number"
            domain={[-1, 1]}
            ticks={emYTicks}
            interval={0}
            width={45}
            axisLine={axisLine}
            tickLine={false}
            tickSize={0}
            tickMargin={0}
            tick={<AxisTickY majors={emYMajor} fontSize={15.5} labelGap={14} digits={1} />}
          />
          {emOutliers.map((s, i) => (
            <Line key={`o${i}`} data={toRows(s.x, s.y)} dataKey="y" stroke={s.color} strokeWidth={1} dot={false} isAnimationActive={false} />
          ))}
          {emBand.map((s, i) => (
            <Line key={`b${i}`} data={toRows(emGrid, s.y)} dataKey="y" stroke={s.color} strokeWidth={1.1} dot={false} isAnimationActive={false} />
          ))}
          {emBandB.map((s, i) => (
            <Line key={`c${i}`} data={toRows(emGridB, s.y)} dataKey="y" stroke={s.color} strokeWidth={1.1} dot={false} isAnimationActive={false} />
          ))}
        </LineChart>
      </div>
    </div>
  );
}
